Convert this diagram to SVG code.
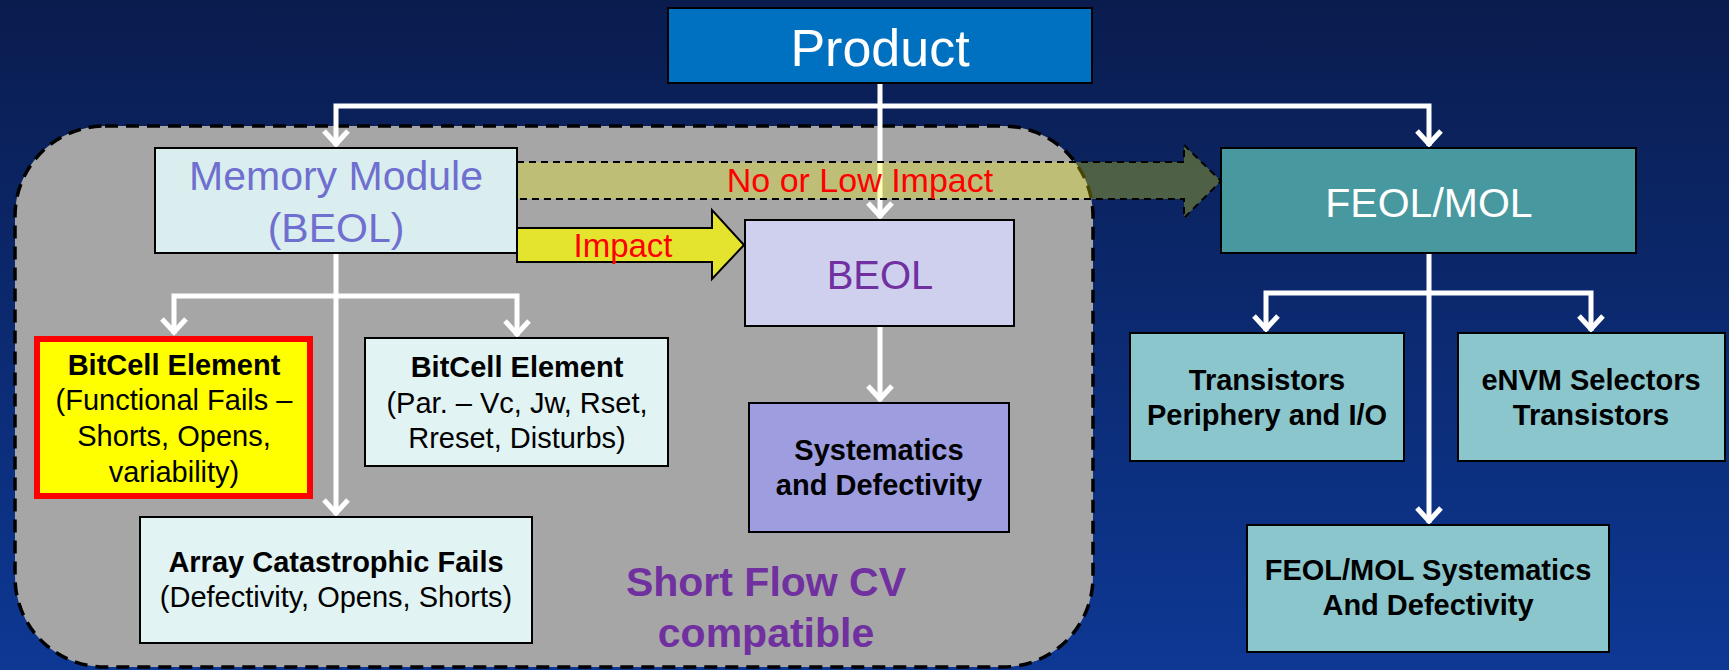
<svg xmlns="http://www.w3.org/2000/svg" width="1729" height="670" viewBox="0 0 1729 670">
<defs>
<linearGradient id="bg" x1="0" y1="0" x2="0" y2="1">
<stop offset="0" stop-color="#0A1C4E"/>
<stop offset="1" stop-color="#0D3894"/>
</linearGradient>
<marker id="ah" viewBox="-20 -16 24 32" markerWidth="24" markerHeight="32" refX="0" refY="0" orient="auto" markerUnits="userSpaceOnUse">
<path d="M-15,-12 L-2,0 L-15,12" fill="none" stroke="#FFFFFF" stroke-width="5" stroke-linejoin="miter" stroke-linecap="butt"/>
</marker>
<style>
.box{stroke:#000;stroke-width:2}
.t{font-family:"Liberation Sans",Arial,sans-serif;text-anchor:middle}
.b{font-weight:bold;font-size:29px;fill:#000}
.r{font-size:29px;fill:#000}
.conn{fill:none;stroke:#FFFFFF;stroke-width:5}
</style>
</defs>
<rect x="0" y="0" width="1729" height="670" fill="url(#bg)"/>

<g id="region">
<rect x="15" y="126" width="1078" height="541" rx="90" ry="90" fill="#A6A6A6" stroke="#000" stroke-width="3.5" stroke-dasharray="13,8"/>
<text class="t" x="766" y="596" font-size="41" font-weight="bold" fill="#7030A0">Short Flow CV</text>
<text class="t" x="766" y="647" font-size="41" font-weight="bold" fill="#7030A0">compatible</text>
</g>

<g id="connectors">
<path class="conn" d="M880,84 V218" marker-end="url(#ah)"/>
<path class="conn" d="M880,106 H336 V146" marker-end="url(#ah)"/>
<path class="conn" d="M880,106 H1429 V146" marker-end="url(#ah)"/>
<path class="conn" d="M336,253 V515" marker-end="url(#ah)"/>
<path class="conn" d="M336,296 H174 V334" marker-end="url(#ah)"/>
<path class="conn" d="M336,296 H517 V336" marker-end="url(#ah)"/>
<path class="conn" d="M880,326 V401" marker-end="url(#ah)"/>
<path class="conn" d="M1429,253 V523" marker-end="url(#ah)"/>
<path class="conn" d="M1429,293 H1266 V331" marker-end="url(#ah)"/>
<path class="conn" d="M1429,293 H1591 V331" marker-end="url(#ah)"/>
</g>

<g id="arrow-no-low-impact">
<polygon points="517,162 1184,162 1184,145 1221,181 1184,218 1184,199 517,199" fill="#FFFF00" fill-opacity="0.28" stroke="#000" stroke-width="2" stroke-dasharray="7,5"/>
<text class="t" x="860" y="192" font-size="34" fill="#FF0000">No or Low Impact</text>
</g>

<g id="arrow-impact">
<polygon points="517,228 712,228 712,210 744,245 712,279 712,262 517,262" fill="#E4E42E" stroke="#000" stroke-width="2"/>
<text class="t" x="623" y="257" font-size="33" fill="#FF0000">Impact</text>
</g>

<g id="product">
<rect class="box" x="668" y="8" width="424" height="75" fill="#0070C0"/>
<text class="t" x="880" y="66" font-size="52" fill="#FFFFFF">Product</text>
</g>

<g id="memory-module">
<rect class="box" x="155" y="148" width="362" height="105" fill="#DAEEF0"/>
<text class="t" x="336" y="190" font-size="41" fill="#6F6FCF">Memory Module</text>
<text class="t" x="336" y="242" font-size="41" fill="#6F6FCF">(BEOL)</text>
</g>

<g id="beol">
<rect class="box" x="745" y="220" width="269" height="106" fill="#CFCFEE"/>
<text class="t" x="880" y="289" font-size="40" fill="#7030A0">BEOL</text>
</g>

<g id="feol-mol">
<rect class="box" x="1221" y="148" width="415" height="105" fill="#48989F"/>
<text class="t" x="1429" y="217" font-size="41" fill="#FFFFFF">FEOL/MOL</text>
</g>

<g id="bitcell-functional">
<rect x="37" y="339" width="273" height="157" fill="#FFFF00" stroke="#FF0000" stroke-width="6"/>
<text class="t b" x="174" y="375">BitCell Element</text>
<text class="t r" x="174" y="410">(Functional Fails –</text>
<text class="t r" x="174" y="446">Shorts, Opens,</text>
<text class="t r" x="174" y="482">variability)</text>
</g>

<g id="bitcell-parametric">
<rect class="box" x="365" y="338" width="303" height="128" fill="#E2F3F4"/>
<text class="t b" x="517" y="377">BitCell Element</text>
<text class="t r" x="517" y="413">(Par. – Vc, Jw, Rset,</text>
<text class="t r" x="517" y="448">Rreset, Disturbs)</text>
</g>

<g id="array-fails">
<rect class="box" x="140" y="517" width="392" height="126" fill="#E2F3F4"/>
<text class="t b" x="336" y="572">Array Catastrophic Fails</text>
<text class="t r" x="336" y="607">(Defectivity, Opens, Shorts)</text>
</g>

<g id="systematics">
<rect class="box" x="749" y="403" width="260" height="129" fill="#9D9DDF"/>
<text class="t b" x="879" y="460">Systematics</text>
<text class="t b" x="879" y="495">and Defectivity</text>
</g>

<g id="transistors-periphery">
<rect class="box" x="1130" y="333" width="274" height="128" fill="#8AC6CC"/>
<text class="t b" x="1267" y="390">Transistors</text>
<text class="t b" x="1267" y="425">Periphery and I/O</text>
</g>

<g id="envm-selectors">
<rect class="box" x="1458" y="333" width="267" height="128" fill="#8AC6CC"/>
<text class="t b" x="1591" y="390">eNVM Selectors</text>
<text class="t b" x="1591" y="425">Transistors</text>
</g>

<g id="feol-systematics">
<rect class="box" x="1247" y="525" width="362" height="127" fill="#8AC6CC"/>
<text class="t b" x="1428" y="580">FEOL/MOL Systematics</text>
<text class="t b" x="1428" y="615">And Defectivity</text>
</g>
</svg>
